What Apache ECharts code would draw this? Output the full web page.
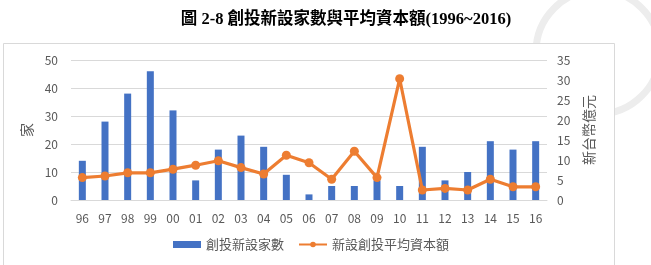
<!DOCTYPE html>
<html>
<head>
<meta charset="utf-8">
<script src="https://cdn.jsdelivr.net/npm/echarts@6/dist/echarts.min.js"></script>
<style>
  html, body { margin: 0; padding: 0; background: #fff; }
  #main { width: 651px; height: 265px; }
</style>
</head>
<body>
<div id="main"></div>
<script>
var years = ["96", "97", "98", "99", "00", "01", "02", "03", "04", "05", "06",
  "07", "08", "09", "10", "11", "12", "13", "14", "15", "16"];
// 創投新設家數 (left axis, 家)
var newFirms = [14, 28, 38, 46, 32, 7, 18, 23, 19, 9, 2, 5, 5, 7, 5, 19, 7, 10, 21, 18, 21];
// 新設創投平均資本額 (right axis, 新台幣億元)
var avgCapital = [5.6, 6.0, 6.8, 6.8, 7.7, 8.7, 9.8, 8.1, 6.5, 11.2, 9.3,
  5.2, 12.2, 5.6, 30.3, 2.5, 2.9, 2.5, 5.2, 3.3, 3.3];

var labelFont = "'Noto Sans CJK TC', 'Noto Sans', sans-serif";
var gray = "#595959";

var myChart = echarts.init(document.getElementById("main"));

var option = {
  backgroundColor: "#fff",
  animation: false,
  title: {
    text: "圖 2-8 創投新設家數與平均資本額(1996~2016)",
    left: 341,
    textAlign: "center",
    top: 6,
    textStyle: {
      fontFamily: "'Liberation Serif', 'Noto Sans CJK TC', serif",
      fontWeight: "bold",
      fontSize: 16.5,
      color: "#000"
    }
  },
  graphic: [
    {
      // faint seal in the top right corner
      type: "circle",
      z: -20,
      shape: { cx: 598, cy: 52, r: 62 },
      style: { fill: "none", stroke: "#ededed", lineWidth: 7 }
    },
    {
      type: "rect",
      z: -10,
      shape: { x: 3.5, y: 43.5, width: 611, height: 240 },
      style: { fill: "#fff", stroke: "#d9d9d9", lineWidth: 1 }
    }
  ],
  grid: {
    left: 71,
    right: 104,
    top: 60,
    bottom: 65
  },
  legend: {
    bottom: 9,
    left: 168,
    itemWidth: 28,
    itemHeight: 7,
    itemGap: 14,
    textStyle: { color: gray, fontFamily: labelFont, fontSize: 13 },
    data: [
      { name: "創投新設家數", icon: "rect" },
      { name: "新設創投平均資本額" }
    ]
  },
  xAxis: {
    type: "category",
    data: years,
    axisLine: { lineStyle: { color: "#d9d9d9" } },
    axisTick: { show: false },
    axisLabel: { color: gray, fontFamily: labelFont, fontSize: 12, margin: 12 }
  },
  yAxis: [
    {
      type: "value",
      min: 0,
      max: 50,
      interval: 10,
      name: "家",
      nameLocation: "middle",
      nameGap: 36,
      nameTextStyle: { color: gray, fontFamily: labelFont, fontSize: 14 },
      axisLine: { show: false },
      axisTick: { show: false },
      axisLabel: { color: gray, fontFamily: labelFont, fontSize: 12, margin: 13 },
      splitLine: { lineStyle: { color: "#d9d9d9" } }
    },
    {
      type: "value",
      min: 0,
      max: 35,
      interval: 5,
      name: "新台幣億元",
      nameLocation: "middle",
      nameRotate: 90,
      nameGap: 33,
      nameTextStyle: { color: gray, fontFamily: labelFont, fontSize: 14 },
      axisLine: { show: false },
      axisTick: { show: false },
      axisLabel: { color: gray, fontFamily: labelFont, fontSize: 12, margin: 10 },
      splitLine: { show: false }
    }
  ],
  series: [
    {
      name: "創投新設家數",
      type: "bar",
      yAxisIndex: 0,
      barWidth: 7,
      itemStyle: { color: "#4472C4" },
      data: newFirms
    },
    {
      name: "新設創投平均資本額",
      type: "line",
      yAxisIndex: 1,
      symbol: "circle",
      symbolSize: 9,
      lineStyle: { color: "#ED7D31", width: 3.2 },
      itemStyle: { color: "#ED7D31" },
      data: avgCapital
    }
  ]
};

myChart.setOption(option);
window.onresize = function () {
  myChart.resize();
};
</script>
</body>
</html>
